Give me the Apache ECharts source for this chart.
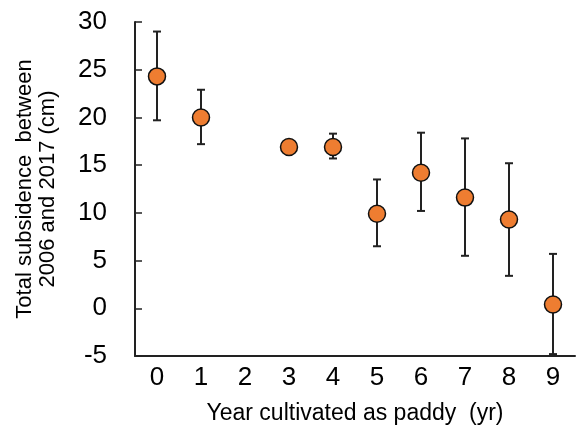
<!DOCTYPE html>
<html>
<head>
<meta charset="utf-8">
<script src="https://cdn.jsdelivr.net/npm/echarts@6/dist/echarts.min.js"></script>
<style>
  html, body { margin: 0; padding: 0; background: #fff; }
  #chart { width: 577px; height: 430px; }
</style>
</head>
<body>
<div id="chart"></div>
<script type="application/javascript">
// years cultivated as paddy
var years = ['0', '1', '2', '3', '4', '5', '6', '7', '8', '9'];
// mean subsidence (cm), null where no data
var subsidence = [24.3, 20.0, null, 16.9, 16.9, 9.9, 14.2, 11.6, 9.3, 0.4];
// error bar ends
var errLow  = [19.7, 17.2, null, null, 15.7, 6.5, 10.2, 5.5, 3.4, -4.8];
var errHigh = [29.0, 22.9, null, null, 18.3, 13.5, 18.4, 17.8, 15.2, 5.7];

var font = 'Liberation Sans, Arial, Helvetica, sans-serif';

var pointData = [];
var errData = [];
for (var i = 0; i < years.length; i++) {
    if (subsidence[i] != null) pointData.push([i, subsidence[i]]);
    if (errLow[i] != null) errData.push([i, errLow[i], errHigh[i]]);
}

var myChart = echarts.init(document.getElementById('chart'));
var option = {
    animation: false,
    grid: { left: 135, right: 2, top: 22, bottom: 72 },
    xAxis: {
        type: 'category',
        data: years,
        boundaryGap: true,
        name: 'Year cultivated as paddy  (yr)',
        nameLocation: 'middle',
        nameGap: 46,
        nameTextStyle: { fontFamily: font, fontSize: 23, color: '#000' },
        axisLine: { onZero: false, lineStyle: { color: '#222', width: 2 } },
        axisTick: { inside: true, alignWithLabel: true, length: 6, lineStyle: { color: '#222', width: 1.5 } },
        axisLabel: { fontFamily: font, fontSize: 26, color: '#000', margin: 9 },
        splitLine: { show: false }
    },
    yAxis: {
        type: 'value',
        min: -5,
        max: 30,
        interval: 5,
        name: 'Total subsidence  between\n2006 and 2017 (cm)',
        nameLocation: 'middle',
        nameRotate: 90,
        nameGap: 76,
        nameTextStyle: { fontFamily: font, fontSize: 22, color: '#000', lineHeight: 23 },
        axisLine: { show: true, lineStyle: { color: '#222', width: 2 } },
        axisTick: { show: true, inside: true, length: 7, lineStyle: { color: '#222', width: 1.5 } },
        axisLabel: { fontFamily: font, fontSize: 26, color: '#000', margin: 28 },
        splitLine: { show: false }
    },
    series: [{
        type: 'custom',
        data: errData,
        z: 1,
        renderItem: function (params, api) {
            var x = api.value(0);
            var lo = api.coord([x, api.value(1)]);
            var hi = api.coord([x, api.value(2)]);
            var cap = 4;
            var style = { stroke: '#222', lineWidth: 2 };
            return {
                type: 'group',
                children: [
                    { type: 'line', shape: { x1: lo[0], y1: lo[1], x2: hi[0], y2: hi[1] }, style: style },
                    { type: 'line', shape: { x1: hi[0] - cap, y1: hi[1], x2: hi[0] + cap, y2: hi[1] }, style: style },
                    { type: 'line', shape: { x1: lo[0] - cap, y1: lo[1], x2: lo[0] + cap, y2: lo[1] }, style: style }
                ]
            };
        }
    }, {
        type: 'scatter',
        data: pointData,
        z: 2,
        symbolSize: 17,
        itemStyle: { color: '#EE7D31', borderColor: '#111', borderWidth: 1.5, opacity: 1 }
    }]
};
myChart.setOption(option);
</script>
</body>
</html>
